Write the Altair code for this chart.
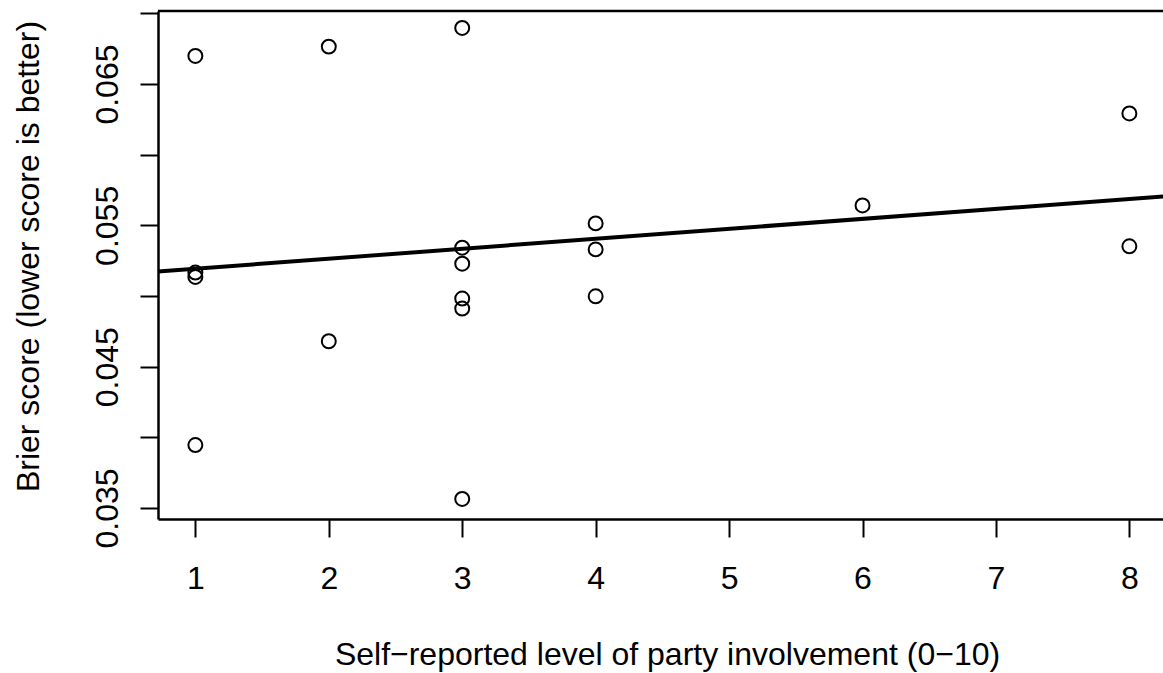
import altair as alt
import pandas as pd

# Self-reported involvement (0-10) and Brier score per forecaster
involvement = [1, 1, 1, 1,
               2, 2,
               3, 3, 3, 3, 3, 3,
               4, 4, 4,
               6,
               8, 8]
brier = [0.06699, 0.05166, 0.05135, 0.03945,
         0.06765, 0.04680,
         0.06897, 0.05342, 0.05229, 0.04982, 0.04911, 0.03564,
         0.05514, 0.05330, 0.04998,
         0.05641,
         0.06292, 0.05352]

x_ticks = [1, 2, 3, 4, 5, 6, 7, 8]
y_ticks = [0.035, 0.040, 0.045, 0.050, 0.055, 0.060, 0.065, 0.070]
y_labelled = ["0.035", "0.045", "0.055", "0.065"]

df = pd.DataFrame({"involvement": involvement, "brier": brier})

W, H = 1005, 508
FONT = "Liberation Sans"
FS = 32

x_scale = alt.Scale(domain=[0.72, 8.252], nice=False, zero=False)
y_scale = alt.Scale(domain=[0.03422, 0.07017], nice=False, zero=False)

label_list = "[" + ",".join("'" + s + "'" for s in y_labelled) + "]"

x_axis = alt.Axis(
    values=x_ticks,
    format="d",
    title="Self\u2212reported level of party involvement (0\u221210)",
    titleX=509, titleY=145, titleAlign="center", titleBaseline="alphabetic",
    tickSize=18, labelPadding=51, labelBaseline="alphabetic",
    labelFlush=False, labelOverlap=False,
)
y_axis = alt.Axis(
    values=y_ticks,
    labelExpr=f"indexof({label_list}, format(datum.value, '.3f')) >= 0 ? format(datum.value, '.3f') : ''",
    title="Brier score (lower score is better)",
    titleAngle=270, titleX=-120, titleY=245, titleAlign="center", titleBaseline="alphabetic",
    tickSize=18, labelPadding=23, labelAngle=270, labelAlign="center",
    labelBaseline="alphabetic", labelFlush=False, labelOverlap=False,
)

base = alt.Chart(df)

points = base.mark_point(
    shape="circle", filled=False, color="black", size=195, strokeWidth=2, opacity=1
).encode(
    x=alt.X("involvement:Q", scale=x_scale, axis=x_axis),
    y=alt.Y("brier:Q", scale=y_scale, axis=y_axis),
)

# Least-squares fit of Brier score on involvement
fit = base.transform_regression(
    "involvement", "brier", extent=[0.72, 8.28]
).mark_line(color="black", strokeWidth=4, clip=True).encode(
    x=alt.X("involvement:Q", scale=x_scale),
    y=alt.Y("brier:Q", scale=y_scale),
)

# Upper edge of the plot frame
frame_top = alt.Chart(pd.DataFrame({"k": [0]})).mark_rule(
    color="black", strokeWidth=2.5
).encode(x=alt.value(0), x2=alt.value(W), y=alt.value(0))

chart = alt.layer(fit, points, frame_top).properties(
    width=W,
    height=H,
    autosize=alt.AutoSizeParams(type="none"),
    padding={"left": 158, "top": 11, "right": 0, "bottom": 154},
    background="white",
).configure_view(
    stroke=None
).configure_axis(
    grid=False,
    domainColor="black", domainWidth=2.5,
    tickColor="black", tickWidth=2,
    labelColor="black", labelFont=FONT, labelFontSize=FS,
    titleColor="black", titleFont=FONT, titleFontSize=FS, titleFontWeight="normal",
)

chart.save("out.html", embed_options={"renderer": "svg", "actions": False})
